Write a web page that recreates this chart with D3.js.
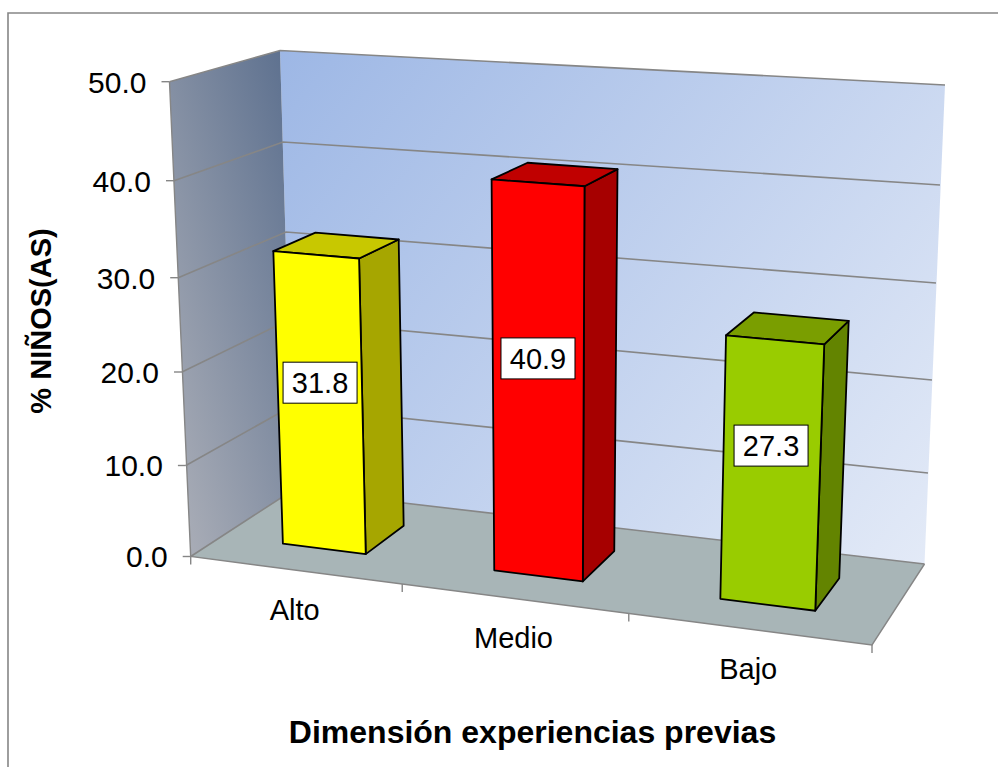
<!DOCTYPE html>
<html>
<head>
<meta charset="utf-8">
<script src="https://cdn.jsdelivr.net/npm/d3@7"></script>
<style>
  body { margin: 0; background: #fff; }
  text { font-family: "Liberation Sans", Arial, sans-serif; fill: #000; }
</style>
</head>
<body>
<svg id="chart" width="998" height="767"></svg>
<script>
// Chart data
const categories = ["Alto", "Medio", "Bajo"];
const values = [31.8, 40.9, 27.3];
const yTicks = [0, 10, 20, 30, 40, 50];
const xTitle = "Dimensión experiencias previas";
const yTitle = "% NIÑOS(AS)";

const barFill = ["#ffff00", "#ff0000", "#99cc00"];
const barSide = ["#a6a600", "#a60000", "#638400"];
const barTop = ["#c8c800", "#c00000", "#7a9e00"];

// Where the value axis lands on each vertical edge of the 3D box (screen px, same order as yTicks)
const edge = (xs, ys) => ({
  x: d3.scaleLinear().domain(yTicks).range(xs),
  y: d3.scaleLinear().domain(yTicks).range(ys)
});
const frontLeft = edge([190.7, 185.9, 182, 178.2, 174, 169.5], [556.5, 465.5, 372, 277.7, 180.7, 81.7]);
const frontRight = edge([872, 875.6, 879.3, 883, 887, 891], [645, 547, 447, 343, 238, 130]);
const backRight = edge([924.5, 928, 932, 936, 940, 945], [564, 473, 380, 283, 185, 85]);
const backLeft = edge([293, 291, 288.5, 286, 283, 280], [490, 406.5, 320, 232, 142, 50.5]);

// Perspective map of the unit square onto a quad (p0 front left, p1 front right, p2 back right, p3 back left)
function quadMap(p0, p1, p2, p3) {
  const dx1 = p1[0] - p2[0], dx2 = p3[0] - p2[0], sx = p0[0] - p1[0] + p2[0] - p3[0];
  const dy1 = p1[1] - p2[1], dy2 = p3[1] - p2[1], sy = p0[1] - p1[1] + p2[1] - p3[1];
  const den = dx1 * dy2 - dx2 * dy1;
  const g = (sx * dy2 - dx2 * sy) / den;
  const h = (dx1 * sy - sx * dy1) / den;
  const map = (u, w) => {
    const q = g * u + h * w + 1;
    return [
      ((p1[0] - p0[0] + g * p1[0]) * u + (p3[0] - p0[0] + h * p3[0]) * w + p0[0]) / q,
      ((p1[1] - p0[1] + g * p1[1]) * u + (p3[1] - p0[1] + h * p3[1]) * w + p0[1]) / q
    ];
  };
  map.q = (u, w) => g * u + h * w + 1;
  return map;
}

// u: 0-1 along the category axis, v: data value, w: 0-1 into the depth
function project(u, v, w) {
  const at = e => [e.x(v), e.y(v)];
  return quadMap(at(frontLeft), at(frontRight), at(backRight), at(backLeft))(u, w);
}

// Bars stand on the floor and rise through one camera, so their edges stay straight
const yMax = d3.max(yTicks);
const floor = quadMap(...[frontLeft, frontRight, backRight, backLeft].map(e => [e.x(0), e.y(0)]));
const heightShrink = -0.06;
const riseX = frontLeft.x(yMax) * (1 + heightShrink) - frontLeft.x(0);
const riseY = frontLeft.y(yMax) * (1 + heightShrink) - frontLeft.y(0) - 3;
const tiltX = -3, tiltY = 6; // the top of the box sags a little toward the right
function barPoint(u, v, w) {
  const t = v / yMax;
  const [fx, fy] = floor(u, w);
  const q0 = floor.q(u, w);
  const q = q0 + heightShrink * t;
  return [(fx * q0 + (riseX + tiltX * u) * t) / q, (fy * q0 + (riseY + tiltY * u) * t) / q];
}

const xBand = d3.scaleBand().domain(categories).range([0, 1]).paddingInner(0.6).paddingOuter(0.3);
const depthFront = 0.29, depthBack = 0.7;

const svg = d3.select("#chart");
const line = d3.line();
const poly = pts => line(pts) + "Z";
const gray = "#868686";

// Gradients
const defs = svg.append("defs");
function gradient(id, p1, p2, c1, c2) {
  const g = defs.append("linearGradient").attr("id", id).attr("gradientUnits", "userSpaceOnUse")
    .attr("x1", p1[0]).attr("y1", p1[1]).attr("x2", p2[0]).attr("y2", p2[1]);
  g.append("stop").attr("offset", 0).attr("stop-color", c1);
  g.append("stop").attr("offset", 1).attr("stop-color", c2);
}
gradient("backWall", project(0, yMax, 1), project(1, 0, 1), "#9db7e5", "#e3eaf7");
gradient("leftWall", [190, 550], [405, 488], "#a8acb6", "#5f7290");

// Outer frame, open on the right and bottom like the cropped original
svg.append("path").attr("d", line([[8, 767], [8, 13], [998, 13]]))
  .attr("fill", "none").attr("stroke", gray).attr("stroke-width", 1.6);

// Walls and floor
svg.append("path").attr("fill", "url(#backWall)")
  .attr("d", poly([project(0, 0, 1), project(1, 0, 1), project(1, yMax, 1), project(0, yMax, 1)]));
svg.append("path").attr("fill", "url(#leftWall)")
  .attr("d", poly([project(0, 0, 0), project(0, 0, 1), project(0, yMax, 1), project(0, yMax, 0)]));
svg.append("path").attr("fill", "#a8b5b7")
  .attr("d", poly([project(0, 0, 0), project(1, 0, 0), project(1, 0, 1), project(0, 0, 1)]));

// Gridlines on both walls
svg.append("g").selectAll("path").data(yTicks).join("path")
  .attr("d", v => line([project(0, v, 0), project(0, v, 1), project(1, v, 1)]))
  .attr("fill", "none").attr("stroke", gray).attr("stroke-width", 1.6);

// Floor edges and value axis line
svg.append("path")
  .attr("d", line([project(0, yMax, 0), project(0, 0, 0), project(1, 0, 0), project(1, 0, 1)]))
  .attr("fill", "none").attr("stroke", gray).attr("stroke-width", 1.4);

// Value axis ticks and labels
const yAxis = svg.append("g").selectAll("g").data(yTicks).join("g");
yAxis.append("line")
  .attr("x1", v => frontLeft.x(v) - 8).attr("x2", v => frontLeft.x(v))
  .attr("y1", v => frontLeft.y(v)).attr("y2", v => frontLeft.y(v))
  .attr("stroke", gray).attr("stroke-width", 1.4);
yAxis.append("text")
  .attr("x", v => frontLeft.x(v) - 23).attr("y", v => frontLeft.y(v))
  .attr("dy", "0.36em").attr("text-anchor", "end").attr("font-size", 30)
  .text(d3.format(".1f"));

// Category axis ticks and labels
svg.append("g").selectAll("line").data(d3.range(categories.length + 1)).join("line")
  .attr("x1", i => project(i / categories.length, 0, 0)[0])
  .attr("x2", i => project(i / categories.length, 0, 0)[0])
  .attr("y1", i => project(i / categories.length, 0, 0)[1])
  .attr("y2", i => project(i / categories.length, 0, 0)[1] + 8)
  .attr("stroke", gray).attr("stroke-width", 1.4);
svg.append("g").selectAll("text").data(categories).join("text")
  .attr("x", c => project(xBand(c) + xBand.bandwidth() / 2, 0, 0)[0])
  .attr("y", c => project(xBand(c) + xBand.bandwidth() / 2, 0, 0)[1] + 50)
  .attr("text-anchor", "middle").attr("font-size", 29)
  .text(c => c);

// Bars
const bars = svg.append("g").selectAll("g").data(categories).join("g")
  .attr("stroke", "#000").attr("stroke-width", 1.8).attr("stroke-linejoin", "round");
const corner = (c, side, v, w) => barPoint(xBand(c) + (side ? xBand.bandwidth() : 0), v, w);
bars.append("path").attr("fill", (c, i) => barSide[i])
  .attr("d", (c, i) => poly([
    corner(c, 1, 0, depthFront), corner(c, 1, 0, depthBack),
    corner(c, 1, values[i], depthBack), corner(c, 1, values[i], depthFront)]));
bars.append("path").attr("fill", (c, i) => barTop[i])
  .attr("d", (c, i) => poly([
    corner(c, 0, values[i], depthFront), corner(c, 1, values[i], depthFront),
    corner(c, 1, values[i], depthBack), corner(c, 0, values[i], depthBack)]));
bars.append("path").attr("fill", (c, i) => barFill[i])
  .attr("d", (c, i) => poly([
    corner(c, 0, 0, depthFront), corner(c, 1, 0, depthFront),
    corner(c, 1, values[i], depthFront), corner(c, 0, values[i], depthFront)]));

// Data labels sit a little above the middle of the front face
const labelLift = [22, 26, 29];
const labels = svg.append("g").selectAll("g").data(categories).join("g")
  .attr("transform", (c, i) => {
    const p = barPoint(xBand(c) + xBand.bandwidth() / 2, values[i] / 2, depthFront);
    return `translate(${p[0]},${p[1] - labelLift[i]})`;
  });
labels.append("rect").attr("x", -37).attr("y", -20.5).attr("width", 74).attr("height", 41)
  .attr("fill", "#fff").attr("stroke", "#000").attr("stroke-width", 1);
labels.append("text").attr("text-anchor", "middle").attr("dy", "0.36em").attr("font-size", 29)
  .text((c, i) => d3.format(".1f")(values[i]));

// Axis titles
svg.append("text").attr("x", 532.5).attr("y", 743).attr("text-anchor", "middle")
  .attr("font-size", 32).attr("font-weight", "bold").text(xTitle);
svg.append("text").attr("transform", "translate(51,321) rotate(-90)").attr("text-anchor", "middle")
  .attr("font-size", 29).attr("font-weight", "bold").text(yTitle);
</script>
</body>
</html>
